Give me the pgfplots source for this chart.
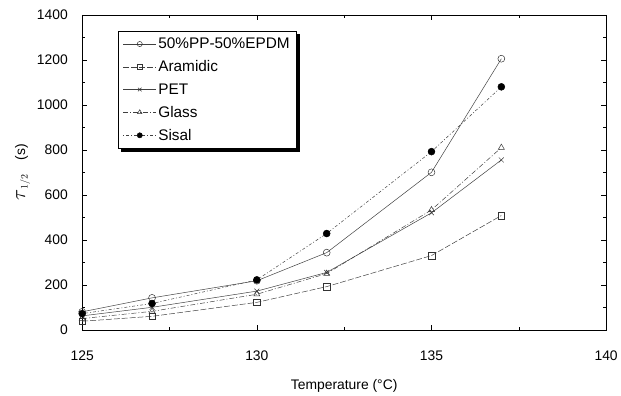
\documentclass[border=0pt]{standalone}
\usepackage{pgfplots}
\pgfplotsset{compat=1.18}
\usepackage{fontspec}
\setmainfont{Liberation Sans}
\begin{document}
\begin{tikzpicture}
\begin{axis}[
  at={(0,0)}, anchor=south west,
  width=529pt, height=318pt, scale only axis,
  xmin=125, xmax=140, ymin=0, ymax=1400,
  xtick={125,130,135,140}, ytick={0,200,...,1400},
  minor x tick num=1, minor y tick num=1,
  tick align=inside, major tick length=5pt, minor tick length=3pt,
  axis line style={line width=0.6pt},
  tick style={line width=0.5pt, black},
  /pgf/number format/assume math mode=true,
  /pgf/number format/1000 sep={},
  tick label style={font=\fontsize{14}{16}\selectfont},
  yticklabel style={xshift=-11pt},
  xticklabel style={yshift=-18pt},
  xlabel={Temperature (°C)},
  xlabel style={font=\fontsize{14}{16}\selectfont, yshift=-12pt},
  ylabel={{\fontsize{20}{20}\selectfont$\tau$}$_{1/2}$\quad(s)},
  ylabel style={font=\fontsize{14}{16}\selectfont, yshift=0pt},
  legend style={name=leg, at={(0.068,0.95)}, anchor=north west, draw=black, line width=0.8pt, fill=white,
    font=\fontsize{15.5}{17}\selectfont, row sep=6.5pt, inner xsep=5pt, inner ysep=5pt,
    cells={anchor=west}},
  legend image code/.code={\draw[mark repeat=2,mark phase=2,line width=0.5pt,mark size=2.6pt] plot coordinates {(0cm,0cm) (0.58cm,0cm) (1.16cm,0cm)};},
  every axis plot/.append style={line width=0.5pt, black!75},
]
\addplot[mark=o, mark size=3.5pt, mark options={solid, black!80}] coordinates {
(125,80) (127,142) (130,218) (132,343) (135,700) (137,1205)};
\addlegendentry{50\%PP-50\%EPDM}
\addplot[mark=square, mark size=3.3pt, mark options={solid, black!80}, dash pattern=on 6pt off 2pt] coordinates {
(125,38) (127,60) (130,122) (132,192) (135,330) (137,508)};
\addlegendentry{Aramidic}
\addplot[mark=x, mark size=3.5pt, mark options={solid, black!80}] coordinates {
(125,62) (127,100) (130,172) (132,255) (135,520) (137,755)};
\addlegendentry{PET}
\addplot[mark=triangle, mark size=3.5pt, mark options={solid, black!80}, dash pattern=on 5pt off 2pt on 1pt off 2pt] coordinates {
(125,50) (127,82) (130,158) (132,250) (135,533) (137,810)};
\addlegendentry{Glass}
\addplot[mark=*, mark size=3.5pt, mark options={solid, black, fill=black}, dash pattern=on 1pt off 2pt on 3pt off 2pt] coordinates {
(125,72) (127,117) (130,222) (132,428) (135,792) (137,1080)};
\addlegendentry{Sisal}
\end{axis}
\fill[black] ([shift={(0pt,-3pt)}]leg.north east) rectangle ([shift={(3pt,-3pt)}]leg.south east);
\fill[black] ([shift={(3pt,0pt)}]leg.south west) rectangle ([shift={(3pt,-3pt)}]leg.south east);
\path[use as bounding box] (-83pt,-60pt) rectangle (538pt,333pt);
\end{tikzpicture}
\end{document}
